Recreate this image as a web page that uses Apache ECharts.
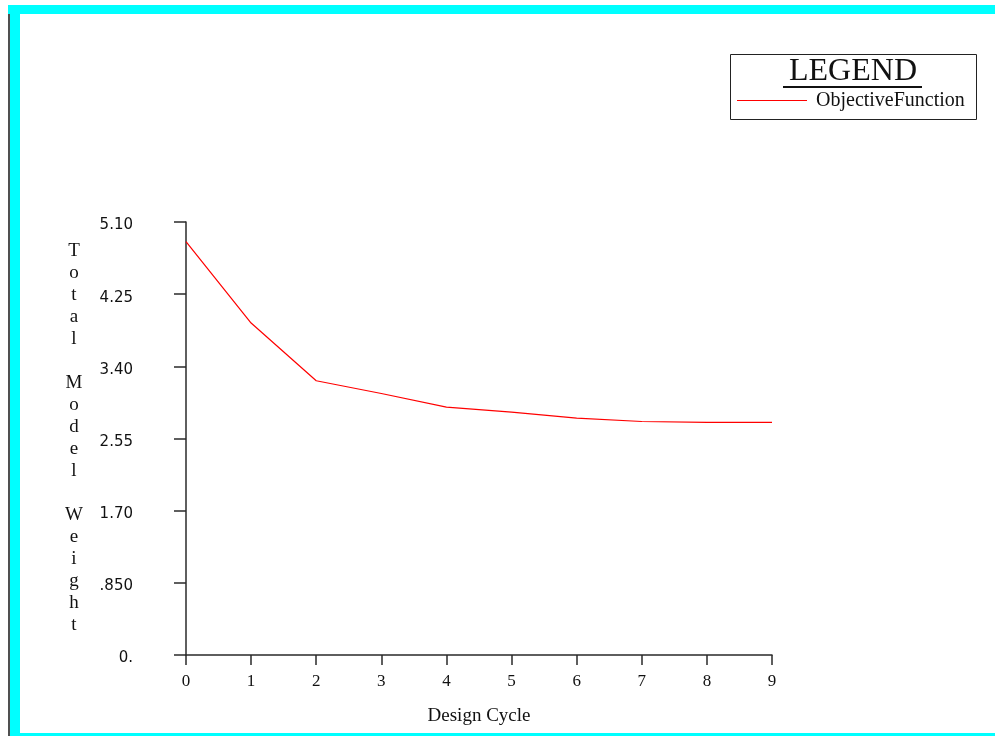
<!DOCTYPE html>
<html>
<head>
<meta charset="utf-8">
<script src="https://cdn.jsdelivr.net/npm/echarts@6/dist/echarts.min.js"></script>
<style>
  html, body { margin: 0; padding: 0; background: #fff; }
  #chart { width: 995px; height: 736px; }
</style>
</head>
<body>
<div id="chart"></div>
<script>
// design cycles and objective values
const cycles = [0, 1, 2, 3, 4, 5, 6, 7, 8, 9]
const objective = [4.87, 3.91, 3.23, 3.08, 2.92, 2.86, 2.79, 2.75, 2.74, 2.74]
const yTickLabels = ['0.', '.850', '1.70', '2.55', '3.40', '4.25', '5.10']
const yAxisTitle = ['T', 'o', 't', 'a', 'l', '', 'M', 'o', 'd', 'e', 'l', '', 'W', 'e', 'i', 'g', 'h', 't']

const chart = echarts.init(document.getElementById('chart'))
const axisColor = '#2a2a2a'
const serif = '"Liberation Serif", "DejaVu Serif", serif'
const sans = '"DejaVu Sans", sans-serif'

chart.setOption({
  backgroundColor: '#fff',
  animation: false,
  grid: { left: 186, top: 222, width: 586, height: 433 },
  xAxis: {
    type: 'value',
    min: 0,
    max: 9,
    interval: 1,
    name: 'Design Cycle',
    nameLocation: 'middle',
    nameGap: 52,
    nameTextStyle: { fontFamily: serif, fontSize: 19, color: '#111' },
    axisLine: { lineStyle: { color: axisColor, width: 1.5 } },
    axisTick: { show: true, inside: false, length: 10, lineStyle: { color: axisColor, width: 1.5 } },
    axisLabel: { margin: 18, fontFamily: serif, fontSize: 17, color: '#111' },
    splitLine: { show: false }
  },
  yAxis: {
    type: 'value',
    min: 0,
    max: 5.1,
    interval: 0.85,
    axisLine: { show: true, lineStyle: { color: axisColor, width: 1.5 } },
    axisTick: { show: true, inside: false, length: 12, lineStyle: { color: axisColor, width: 1.5 } },
    axisLabel: {
      margin: 53,
      color: '#111',
      formatter: (v) => '{t|' + (yTickLabels[Math.round(v / 0.85)] ?? '') + '}',
      rich: {
        t: { fontFamily: sans, fontSize: 15, color: '#111', padding: [7, 0, 0, 0] }
      }
    },
    splitLine: { show: false }
  },
  legend: {
    left: 737,
    top: 90,
    padding: 0,
    itemWidth: 70,
    itemHeight: 1,
    icon: 'rect',
    textStyle: { fontFamily: serif, fontSize: 20, color: '#111', lineHeight: 21, padding: [0, 0, 0, 4] },
    data: ['ObjectiveFunction']
  },
  graphic: [
    // cyan window frame
    { type: 'rect', z: -10, shape: { x: 8, y: 5, width: 2, height: 731 }, style: { fill: '#505050' } },
    { type: 'rect', z: -9, shape: { x: 10, y: 5, width: 10, height: 731 }, style: { fill: '#00ffff' } },
    { type: 'rect', z: -9, shape: { x: 8, y: 5, width: 987, height: 9 }, style: { fill: '#00ffff' } },
    { type: 'rect', z: -9, shape: { x: 10, y: 733, width: 985, height: 3 }, style: { fill: '#00ffff' } },
    // legend box
    { type: 'rect', shape: { x: 730.5, y: 54.5, width: 246, height: 65 }, style: { fill: 'none', stroke: '#222', lineWidth: 1 } },
    {
      type: 'text', x: 853, y: 72,
      style: { text: 'LEGEND', fontFamily: serif, fontSize: 32, fill: '#111', align: 'center', verticalAlign: 'middle' }
    },
    { type: 'line', shape: { x1: 783, y1: 87, x2: 922, y2: 87 }, style: { stroke: '#111', lineWidth: 2 } },
    // stacked y axis title
    {
      type: 'text', x: 74, y: 438,
      style: {
        text: yAxisTitle.join('\n'), fontFamily: serif, fontSize: 19, lineHeight: 22,
        fill: '#111', align: 'center', verticalAlign: 'middle'
      }
    }
  ],
  series: [
    {
      name: 'ObjectiveFunction',
      type: 'line',
      showSymbol: false,
      symbol: 'none',
      color: '#ff0000',
      lineStyle: { color: '#ff0000', width: 1.2 },
      data: cycles.map((c, i) => [c, objective[i]])
    }
  ]
})
</script>
</body>
</html>
